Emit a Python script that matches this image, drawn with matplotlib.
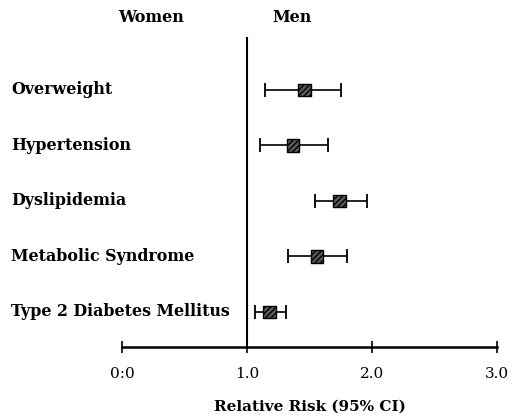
import matplotlib
matplotlib.use("Agg")
import matplotlib.pyplot as plt
import matplotlib.transforms as mtransforms

# relative risk (95% CI), top to bottom as in the figure
conditions = ["Overweight", "Hypertension", "Dyslipidemia",
              "Metabolic Syndrome", "Type 2 Diabetes Mellitus"]
rr = [1.46, 1.37, 1.74, 1.56, 1.18]
ci_low = [1.14, 1.10, 1.54, 1.33, 1.06]
ci_high = [1.75, 1.65, 1.96, 1.80, 1.31]

tick_vals = [0, 1, 2, 3]
tick_labels = ["0:0", "1.0", "2.0", "3.0"]

plt.rcParams["font.family"] = ["DejaVu Serif"]

W, H = 513, 418
fig = plt.figure(figsize=(W / 100, H / 100), dpi=100)
ax = fig.add_axes([122 / W, 1 - 347 / H, 375 / W, 310 / H])

n = len(conditions)
ys = [n - 1 - i for i in range(n)]

for y, m, lo, hi in zip(ys, rr, ci_low, ci_high):
    ax.errorbar(m, y, xerr=[[m - lo], [hi - m]], fmt="none", ecolor="black",
                elinewidth=1.2, capsize=5, capthick=1.3, zorder=2)
    ax.scatter(m, y, marker="s", s=80, facecolor="#5a5a5a", edgecolor="black",
               linewidth=1.0, hatch="//////", zorder=3)

ax.axvline(1.0, color="black", lw=1.5, zorder=1)

ax.set_xlim(0, 3)
ax.set_ylim(-0.63, 4.95)
for s in ["top", "right", "left"]:
    ax.spines[s].set_visible(False)
ax.spines["bottom"].set_linewidth(1.8)
ax.set_yticks([])
ax.set_xticks(tick_vals)
ax.set_xticklabels(tick_labels, fontsize=11)
ax.tick_params(axis="x", direction="inout", length=9, width=1.2, pad=10)
ax.margins(0)

trans = mtransforms.blended_transform_factory(fig.transFigure, ax.transData)
for y, name in zip(ys, conditions):
    ax.text(11 / W, y, name, transform=trans, ha="left", va="center",
            fontsize=11.4, fontweight="bold")

fig.text(151 / W, 1 - 17 / H, "Women", ha="center", va="center",
         fontsize=11.5, fontweight="bold")
fig.text(292 / W, 1 - 17 / H, "Men", ha="center", va="center",
         fontsize=11.5, fontweight="bold")
fig.text(310 / W, 1 - 407 / H, "Relative Risk (95% CI)", ha="center",
         va="center", fontsize=11, fontweight="bold")

fig.savefig("out.png", dpi=100)
